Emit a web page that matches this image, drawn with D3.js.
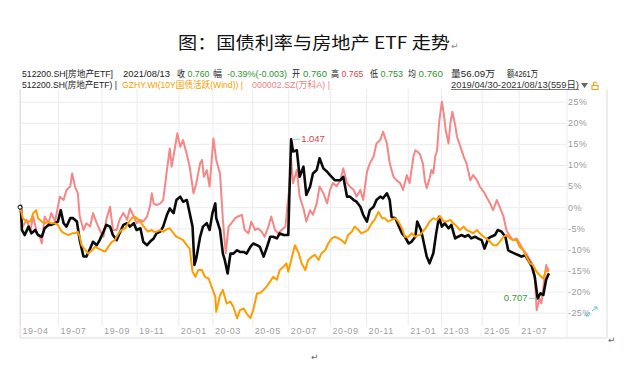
<!DOCTYPE html>
<html>
<head>
<meta charset="utf-8">
<script src="https://cdn.jsdelivr.net/npm/d3@7"></script>
<style>
  body { margin: 0; background: #fff; }
  svg text { font-family: "Liberation Sans", "Noto Sans CJK SC", sans-serif; }
</style>
</head>
<body>
<svg id="chart" width="625" height="371"></svg>
<script>
"use strict"

// trading-day index (0 = 2019/04/30, 558 = 2021/08/13) of the month ticks
const tickDays = [0, 40, 86, 123, 167, 203, 245, 283, 327, 365, 409, 444, 487, 526]
const tickLabels = ["19-04", "19-07", "19-09", "19-11", "20-01", "20-03", "20-05",
                    "20-07", "20-09", "20-11", "21-01", "21-03", "21-05", "21-07"]
const yTicks = [25, 20, 15, 10, 5, 0, -5, -10, -15, -20, -25]

// [trading day, % change since start]
const etf = [[0,0],[1,0.3],[2,-5.4],[5,-6.6],[9,-4.6],[12,-6.2],[16,-5.4],[19,-6.6],[23,-7.0],[26,-5.0],[30,-4.2],[33,-4.2],
  [37,-3.8],[40,-3.4],[43,-0.7],[46,-3.8],[49,-4.6],[53,-2.6],[56,-2.6],[60,-3.4],[63,-7.8],[67,-11.7],[70,-11.7],
  [74,-9.8],[77,-8.2],[81,-9.0],[84,-7.8],[88,-5.8],[91,-4.2],[95,-4.6],[98,-6.6],[102,-7.8],[105,-6.2],[109,-4.2],
  [113,-3.8],[116,-4.6],[120,-3.8],[123,-5.4],[127,-5.0],[130,-8.2],[134,-9.0],[137,-8.2],[141,-7.4],[144,-6.2],
  [148,-5.8],[151,-4.6],[155,-1.8],[158,-0.3],[162,-1.4],[165,1.7],[169,2.5],[172,1.3],[176,1.7],[179,-1.4],
  [182,-4.6],[184,-13.7],[186,-12.1],[190,-7.0],[193,-4.6],[197,-3.8],[200,-5.4],[203,-1.4],[206,0.9],[207,-2.6],
  [211,-5.4],[214,-11.0],[216,-12.5],[219,-15.7],[222,-11.0],[225,-11.0],[229,-10.2],[232,-10.6],[236,-10.6],
  [239,-11.0],[243,-9.4],[246,-8.6],[250,-9.0],[253,-9.4],[257,-11.7],[260,-9.8],[264,-7.0],[267,-7.0],[271,-7.4],
  [274,-6.2],[278,-6.6],[281,-6.6],[283,-6.6],[284,1.7],[286,16.1],[288,13.2],[292,13.5],[295,7.2],[299,9.6],
  [302,2.9],[306,4.9],[309,8.0],[313,8.8],[316,11.6],[320,9.2],[324,8.4],[327,7.6],[332,6.4],[338,6.4],[341,7.2],
  [345,2.5],[348,2.5],[352,1.7],[355,1.3],[359,0.1],[362,-1.8],[366,-3.4],[369,-0.7],[373,0.1],[376,1.7],[380,2.5],
  [383,2.1],[387,3.3],[390,1.7],[392,-2.3],[396,-2.6],[399,-4.2],[403,-6.2],[406,-7.0],[410,-8.6],[413,-8.2],
  [417,-7.0],[419,-3.4],[423,-5.4],[425,-7.4],[429,-11.7],[432,-13.3],[436,-10.9],[439,-6.2],[442,-2.3],[445,-4.6],
  [448,-3.8],[452,-5.0],[455,-4.2],[459,-7.4],[462,-7.0],[466,-6.6],[469,-7.0],[473,-6.6],[476,-7.4],[480,-7.0],
  [483,-7.4],[487,-7.8],[490,-9.8],[494,-7.4],[497,-7.0],[501,-6.6],[504,-5.4],[508,-5.8],[512,-7.0],[515,-10.2],
  [518,-10.6],[522,-11.0],[526,-11.4],[529,-11.7],[533,-11.4],[536,-12.5],[540,-14.1],[543,-16.5],[546,-21.6],
  [549,-20.4],[552,-20.8],[555,-17.2],[557,-16.1],[558,-15.7]]

const bond = [[0,0],[1,-0.7],[3,-2.6],[7,-3.4],[11,-3.4],[14,-1.4],[17,-0.7],[19,-2.6],[23,-3.4],[26,-3.8],[30,-3.4],
  [33,-3.8],[37,-3.8],[40,-4.2],[44,-5.8],[47,-6.2],[51,-6.6],[55,-6.2],[58,-6.2],[61,-5.8],[63,-7.0],[65,-9.0],
  [69,-10.2],[72,-11.0],[76,-10.2],[79,-9.4],[83,-9.8],[86,-10.2],[90,-10.5],[93,-9.4],[97,-8.2],[100,-7.8],
  [104,-6.2],[107,-5.4],[111,-5.0],[114,-3.8],[118,-2.6],[121,-2.2],[125,-3.0],[128,-3.8],[132,-5.0],[135,-5.8],
  [139,-5.4],[141,-5.8],[144,-5.8],[148,-5.4],[151,-5.8],[155,-5.2],[158,-5.0],[162,-6.2],[165,-7.0],[169,-7.4],
  [172,-7.8],[176,-9.0],[179,-9.8],[182,-15.3],[185,-16.5],[188,-14.9],[192,-14.9],[195,-16.5],[199,-16.9],
  [202,-18.8],[206,-21.2],[207,-24.8],[211,-20.8],[214,-19.6],[218,-22.8],[222,-22.4],[225,-23.6],[229,-26.3],
  [232,-24.4],[236,-24.0],[239,-25.2],[243,-26.3],[246,-24.4],[250,-20.4],[253,-20.4],[257,-19.6],[260,-18.8],
  [264,-17.6],[267,-16.5],[271,-17.2],[274,-14.9],[278,-14.1],[281,-13.3],[283,-15.3],[287,-11.7],[290,-9.0],
  [294,-10.9],[297,-13.3],[301,-14.9],[304,-12.5],[308,-11.7],[311,-11.3],[315,-12.5],[318,-10.9],[322,-10.2],
  [325,-8.6],[329,-7.4],[332,-7.0],[336,-7.4],[339,-7.8],[343,-8.6],[346,-6.6],[350,-5.8],[353,-4.6],[357,-5.4],
  [360,-6.2],[364,-5.8],[367,-5.4],[371,-3.8],[374,-3.0],[378,-1.1],[382,-2.6],[385,-2.6],[388,-3.4],[392,-3.0],
  [396,-2.6],[399,-3.4],[403,-5.0],[406,-7.0],[410,-7.0],[413,-6.2],[417,-7.0],[420,-6.6],[422,-6.6],[425,-5.8],
  [429,-4.6],[432,-3.4],[436,-2.6],[440,-3.0],[443,-2.1],[447,-3.4],[450,-3.4],[454,-3.0],[457,-3.8],[461,-4.6],
  [464,-5.4],[468,-4.6],[471,-5.4],[475,-5.8],[478,-6.2],[482,-5.4],[485,-6.2],[489,-7.0],[492,-7.4],[496,-8.2],
  [499,-9.0],[503,-9.0],[506,-8.2],[510,-7.0],[513,-6.6],[517,-7.4],[520,-7.8],[524,-7.8],[527,-9.4],[531,-10.2],
  [534,-11.7],[538,-13.3],[541,-13.7],[545,-15.3],[548,-16.1],[552,-16.9],[555,-14.9],[558,-15.3]]

const vanke = [[0,0],[1,-2.2],[3,-4.6],[7,-3.0],[11,-5.4],[14,-2.2],[18,-6.2],[21,-7.0],[23,-8.6],[26,-2.2],[30,-3.8],
  [33,-1.4],[37,-3.4],[40,0.1],[42,2.5],[46,1.7],[49,4.1],[53,4.9],[55,8.0],[58,4.9],[61,3.3],[63,-2.2],[67,-5.4],
  [70,-3.8],[74,-4.6],[77,-1.4],[81,-3.8],[84,-5.4],[88,-7.0],[91,-3.0],[95,0.1],[98,-5.4],[102,-5.4],[105,-3.0],
  [109,-1.4],[113,-3.0],[116,-0.3],[120,-2.2],[123,-3.8],[127,-3.0],[130,-3.4],[134,-2.2],[137,0.1],[139,3.3],
  [141,0.9],[144,0.5],[148,0.9],[151,1.7],[155,8.8],[158,13.9],[160,9.6],[163,13.5],[166,17.5],[169,14.3],
  [172,15.9],[176,12.4],[179,9.6],[181,6.4],[183,3.3],[186,5.7],[190,10.4],[192,11.2],[194,7.2],[197,8.8],
  [200,4.9],[204,16.3],[207,11.2],[211,8.0],[214,-3.0],[217,-10.9],[220,-4.6],[223,-3.8],[227,-2.6],[230,-2.2],
  [234,-1.8],[237,-5.4],[241,-6.2],[244,-3.4],[248,-5.4],[251,-5.0],[255,-5.8],[258,-7.0],[262,-4.6],[265,-2.2],
  [269,-5.4],[272,-6.2],[276,-5.4],[280,-4.6],[282,0.1],[284,4.5],[286,11.2],[288,5.7],[292,8.8],[295,2.5],
  [299,-0.3],[302,-3.4],[306,-0.7],[309,-1.8],[313,0.9],[316,4.9],[320,3.3],[324,0.9],[327,4.1],[330,5.7],
  [334,5.0],[338,6.4],[341,9.2],[345,5.7],[348,4.9],[352,4.1],[355,2.5],[359,4.1],[362,1.7],[366,8.4],[369,10.4],
  [373,12.0],[376,15.1],[380,15.9],[383,17.9],[387,15.1],[390,10.4],[394,7.2],[397,6.4],[401,5.7],[404,4.1],
  [408,7.6],[411,5.7],[415,12.0],[417,13.5],[420,13.0],[422,12.5],[424,11.0],[425,10.4],[427,6.4],[429,4.5],
  [431,6.0],[432,6.8],[434,8.8],[436,8.0],[438,12.0],[440,13.5],[442,19.9],[445,25.0],[447,22.2],[449,18.3],
  [452,15.1],[454,19.9],[456,22.6],[459,19.5],[461,16.7],[464,14.7],[468,12.0],[471,10.4],[475,6.4],[478,7.6],
  [482,6.4],[485,4.9],[489,3.7],[492,2.5],[496,0.9],[499,-0.7],[503,1.7],[506,0.1],[510,-2.2],[513,-5.4],
  [517,-7.0],[520,-7.8],[524,-7.4],[527,-8.6],[531,-10.2],[534,-11.0],[538,-12.5],[541,-13.7],[543,-16.5],
  [545,-24.4],[548,-21.6],[550,-22.8],[553,-17.2],[555,-13.7],[557,-14.9],[558,-14.5]]

const etfStart = 0.902  // close on 2019/04/30, used for the max/min price labels

const svg = d3.select("#chart")
const plot = {left: 20, right: 567, top: 89, bottom: 326}

let x = d3.scaleLinear().domain([0, 577]).range([plot.left, plot.right])
let y = d3.scaleLinear().domain([-25, 25]).range([312.7, 101.7])

// title
svg.append("text")
    .attr("x", 178).attr("y", 49)
    .attr("textLength", 272)
    .attr("lengthAdjust", "spacingAndGlyphs")
    .style("font-family", "'Noto Sans CJK SC', sans-serif")
    .style("font-size", "17px")
    .attr("fill", "#111")
    .text("图：国债利率与房地产 ETF 走势")
svg.append("text").attr("x", 451).attr("y", 49)
    .style("font-family", "'DejaVu Sans'").style("font-size", "9px")
    .attr("fill", "#888").text("↵")

// grid
svg.append("g")
    .attr("transform", "translate(" + plot.left + ",0)")
    .call(d3.axisLeft(y).tickValues(yTicks).tickSize(-(plot.right - plot.left)).tickFormat(""))
    .call(g => g.select(".domain").remove())
    .selectAll("line").attr("stroke", "#ececec")

svg.append("g")
    .attr("transform", "translate(0," + plot.bottom + ")")
    .call(d3.axisBottom(x).tickValues(tickDays).tickSize(-(plot.bottom - plot.top)).tickFormat(""))
    .call(g => g.select(".domain").remove())
    .selectAll("line").attr("stroke", "#ececec")

// frame
const frame = svg.append("g").attr("stroke", "#dcdcdc").attr("fill", "none")
frame.append("path").attr("d", "M20,89V338H607V89")
frame.append("path").attr("d", "M567,89V338").attr("stroke", "#ececec")

// axes labels
svg.append("g")
    .attr("transform", "translate(" + plot.right + ",0)")
    .call(d3.axisRight(y).tickValues(yTicks).tickSize(0).tickPadding(1).tickFormat(d => d + "%"))
    .call(g => g.select(".domain").remove())
    .selectAll("text")
    .attr("fill", "#9a9a9a")
    .style("font-size", "9px")
    .style("letter-spacing", "0.4px")

svg.append("g")
    .attr("transform", "translate(0," + (plot.bottom + 1) + ")")
    .call(d3.axisBottom(x).tickValues(tickDays).tickSize(0).tickPadding(1).tickFormat((d, i) => tickLabels[i]))
    .call(g => g.select(".domain").remove())
    .selectAll("text")
    .attr("text-anchor", "start")
    .attr("dx", 2)
    .attr("fill", "#a0a0a0")
    .style("font-size", "9px")
    .style("letter-spacing", "0.6px")

// series
let line = d3.line().x(d => x(d[0])).y(d => y(d[1]))

const series = [
    {data: vanke, color: "#f58787", width: 2},
    {data: etf, color: "#0a0a0a", width: 2.6},
    {data: bond, color: "#ff9d00", width: 2}
]
svg.append("g").selectAll("path")
    .data(series)
    .enter().append("path")
    .attr("d", d => line(d.data))
    .attr("fill", "none")
    .attr("stroke", d => d.color)
    .attr("stroke-width", d => d.width)
    .attr("stroke-linejoin", "round")

// start marker
svg.append("circle")
    .attr("cx", x(etf[0][0])).attr("cy", y(etf[0][1])).attr("r", 2)
    .attr("fill", "#fff").attr("stroke", "#000").attr("stroke-width", 1)

// max / min labels
let hi = d3.greatest(etf, d => d[1]),
    lo = d3.least(etf, d => d[1])

svg.append("line")
    .attr("x1", x(hi[0]) + 1).attr("x2", x(hi[0]) + 9)
    .attr("y1", y(hi[1])).attr("y2", y(hi[1]))
    .attr("stroke", "#9cc8d8")
svg.append("text")
    .attr("x", x(hi[0]) + 10).attr("y", y(hi[1]) + 3)
    .attr("fill", "#e0413f").style("font-size", "9.5px")
    .text((etfStart * (1 + hi[1] / 100)).toFixed(3))

svg.append("line")
    .attr("x1", x(lo[0]) - 9).attr("x2", x(lo[0]) - 1)
    .attr("y1", y(lo[1])).attr("y2", y(lo[1]))
    .attr("stroke", "#9cc8d8")
svg.append("text")
    .attr("x", x(lo[0]) - 10).attr("y", y(lo[1]) + 3)
    .attr("text-anchor", "end")
    .attr("fill", "#3c9a3c").style("font-size", "9.5px")
    .text((etfStart * (1 + lo[1] / 100)).toFixed(3))

// header rows: text, x, width, baseline, colour
const header = [
    ["512200.SH[房地产ETF]", 22, 91, 77, "#222"],
    ["2021/08/13", 123, 47, 77, "#222"],
    ["收", 177, 8, 77, "#222"], ["0.760", 187.5, 22, 77, "#2f942f"],
    ["幅", 213, 9, 77, "#222"], ["-0.39%(-0.003)", 227, 60, 77, "#2f942f"],
    ["开", 292, 8, 77, "#222"], ["0.760", 303, 24, 77, "#2f942f"],
    ["高", 331, 8, 77, "#222"], ["0.765", 341.5, 22, 77, "#e0413f"],
    ["低", 370, 8, 77, "#222"], ["0.753", 380.5, 22.5, 77, "#2f942f"],
    ["均", 408, 8, 77, "#222"], ["0.760", 418.5, 24.5, 77, "#2f942f"],
    ["量56.09万", 451, 44, 77, "#222"],
    ["额4261万", 507, 31, 77, "#222"],
    ["512200.SH(房地产ETF) |", 22, 95, 88, "#222"],
    ["GZHY.WI(10Y国债活跃(Wind)) |", 122, 121, 88, "#f5a000"],
    ["000002.SZ(万科A) |", 252, 78, 88, "#f27f7f"],
    ["2019/04/30-2021/08/13(559日)", 451, 128, 88, "#333"]
]
svg.append("g").selectAll("text")
    .data(header)
    .enter().append("text")
    .attr("x", d => d[1]).attr("y", d => d[3])
    .attr("textLength", d => d[2])
    .attr("lengthAdjust", "spacingAndGlyphs")
    .attr("fill", d => d[4])
    .style("font-size", "9px")
    .text(d => d[0])

svg.append("line").attr("x1", 451).attr("x2", 579).attr("y1", 89.5).attr("y2", 89.5)
    .attr("stroke", "#555").attr("stroke-width", 0.8)
svg.append("path").attr("d", "M581,83H588L584.5,88Z").attr("fill", "#666")
svg.append("path").attr("d", "M592,85.5h6v4h-6Z M593.5,85.5v-2a1.5,1.5 0 0 1 3,0")
    .attr("fill", "none").attr("stroke", "#f5a000").attr("stroke-width", 1.1)

// zoom icon, paragraph marks
svg.append("path").attr("d", "M592,311l5,-4M594,307h3v3M590,312l-4,4M586,313v3h3")
    .attr("fill", "none").attr("stroke", "#4cc4d8").attr("stroke-width", 0.9)
svg.append("text").attr("x", 608).attr("y", 343)
    .style("font-family", "'DejaVu Sans'").style("font-size", "9px").attr("fill", "#666").text("↵")
svg.append("text").attr("x", 311).attr("y", 360)
    .style("font-family", "'DejaVu Sans'").style("font-size", "9px").attr("fill", "#666").text("↵")
</script>
</body>
</html>
